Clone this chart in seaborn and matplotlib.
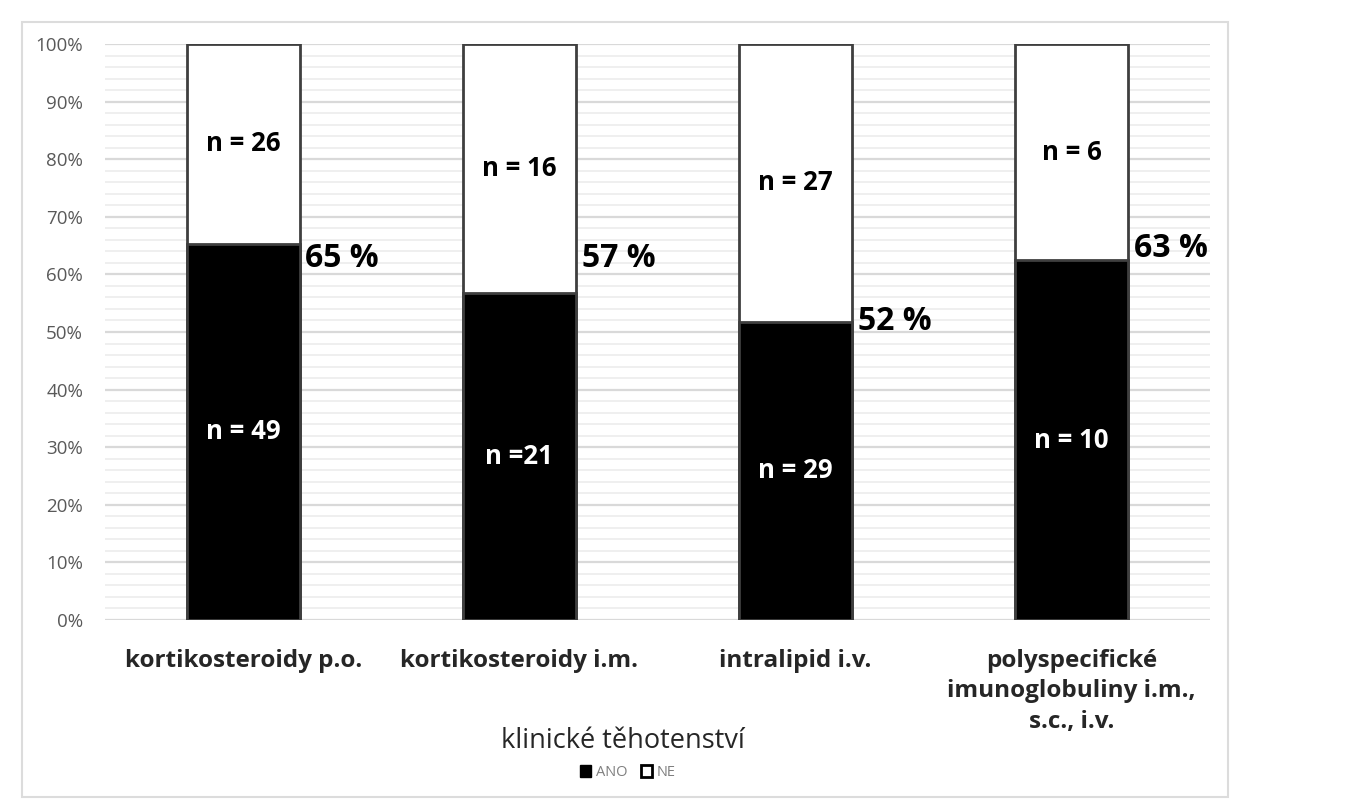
import numpy as np
import pandas as pd
import matplotlib
matplotlib.use("Agg")
import matplotlib.pyplot as plt
from matplotlib.patches import Rectangle, Patch
from matplotlib.ticker import MultipleLocator, PercentFormatter
import seaborn as sns

# data
categories = [
    "kortikosteroidy p.o.",
    "kortikosteroidy i.m.",
    "intralipid i.v.",
    "polyspecifické\nimunoglobuliny i.m.,\ns.c., i.v.",
]
n_ano = [49, 21, 29, 10]
n_ne = [26, 16, 27, 6]
ano_labels = ["n = 49", "n =21", "n = 29", "n = 10"]
ne_labels = ["n = 26", "n = 16", "n = 27", "n = 6"]
pct_labels = ["65 %", "57 %", "52 %", "63 %"]

df = pd.DataFrame({"kategorie": categories, "ANO": n_ano, "NE": n_ne})
df["celkem"] = df["ANO"] + df["NE"]
df["podil_ano"] = df["ANO"] / df["celkem"] * 100
df["vse"] = 100.0

sns.set_theme(style="white")
plt.rcParams["font.family"] = ["Open Sans", "DejaVu Sans"]

fig = plt.figure(figsize=(13.5, 8), dpi=100)
ax = fig.add_axes([0.078, 0.225, 0.818, 0.72])

# outer frame like the original export
fig.patches.append(Rectangle((22 / 1350, 3 / 800), 1206 / 1350, 775 / 800,
                             transform=fig.transFigure, fill=False,
                             edgecolor="#dcdcdc", linewidth=1.5, zorder=0))

# gridlines (major every 10 %, minor every 2 %)
ax.yaxis.set_major_locator(MultipleLocator(10))
ax.yaxis.set_minor_locator(MultipleLocator(2))
ax.grid(which="major", axis="y", color="#d9d9d9", linewidth=1.6, zorder=0)
ax.grid(which="minor", axis="y", color="#ececec", linewidth=1.2, zorder=0)
ax.set_axisbelow(True)

sns.barplot(data=df, x="kategorie", y="vse", color="white", width=0.41,
            edgecolor="#3f3f3f", linewidth=2, saturation=1, ax=ax, zorder=2)
sns.barplot(data=df, x="kategorie", y="podil_ano", color="black", width=0.41,
            edgecolor="#3f3f3f", linewidth=2, saturation=1, ax=ax, zorder=3)

# hand-placed vertical shifts of the percentage labels (as in original)
pct_shift = [-2.5, 6.0, 0.0, 2.0]
for i, row in df.iterrows():
    share = row["podil_ano"]
    ax.text(i, share / 2, ano_labels[i], color="white", ha="center", va="center",
            fontsize=18.5, fontweight="bold", zorder=4)
    ax.text(i, share + (100 - share) / 2, ne_labels[i], color="black", ha="center",
            va="center", fontsize=18.5, fontweight="bold", zorder=4)
    ax.text(i + 0.225, share + pct_shift[i], pct_labels[i], color="black",
            ha="left", va="center", fontsize=23, fontweight="bold", zorder=4)

ax.set_ylim(0, 100)
ax.set_xlim(-0.5, 3.5)
ax.yaxis.set_major_formatter(PercentFormatter(decimals=0))
ax.tick_params(axis="y", labelsize=13.5, labelcolor="#595959", length=0, pad=16)
ax.tick_params(axis="x", labelsize=17.5, length=0, pad=21)
for lab in ax.get_xticklabels():
    lab.set_fontweight("bold")
    lab.set_verticalalignment("top")
    lab.set_linespacing(1.35)
for s in ax.spines.values():
    s.set_visible(False)

ax.set_ylabel("")
ax.set_xlabel("klinické těhotenství", fontsize=19.5, color="#262626")
ax.xaxis.set_label_coords(0.469, -0.185)

handles = [Patch(facecolor="black", edgecolor="black", label="ANO"),
           Patch(facecolor="white", edgecolor="black", linewidth=2, label="NE")]
fig.legend(handles=handles, loc="center", bbox_to_anchor=(0.465, 0.034),
           ncol=2, frameon=False, fontsize=10.5, handlelength=0.75, handleheight=0.9,
           handletextpad=0.35, columnspacing=0.9, labelcolor="#7f7f7f")

fig.savefig("out.png", dpi=100)
